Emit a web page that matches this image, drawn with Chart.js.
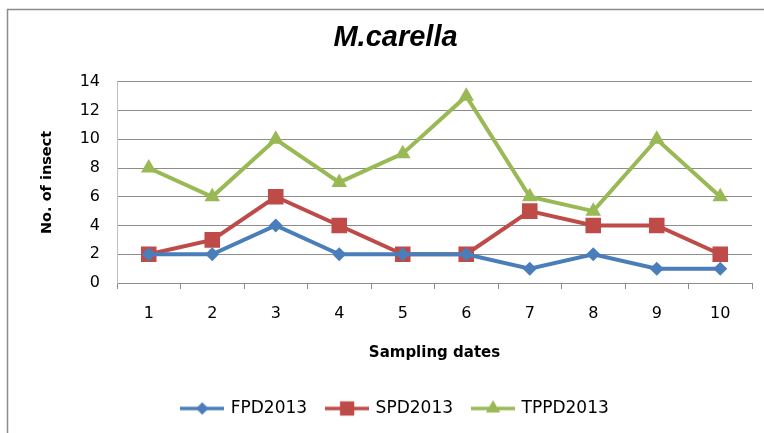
<!DOCTYPE html>
<html>
<head>
<meta charset="utf-8">
<script src="https://cdn.jsdelivr.net/npm/chart.js@4"></script>
<style>
html,body{margin:0;padding:0;background:#fff;}
#wrap{position:absolute;left:0;top:0;width:764px;height:433px;}
</style>
</head>
<body>
<div id="wrap"><canvas id="c" width="764" height="433"></canvas></div>
<script>
const categories = ['1','2','3','4','5','6','7','8','9','10'];
const fpd2013 = [2,2,4,2,2,2,1,2,1,1];
const spd2013 = [2,3,6,4,2,2,5,4,4,2];
const tppd2013 = [8,6,10,7,9,13,6,5,10,6];
const seriesNames = ['FPD2013','SPD2013','TPPD2013'];
const yTicks = [0,2,4,6,8,10,12,14];

const colors = ['#4a7ebb','#be4b48','#98b954'];
const styles = ['rectRot','rect','triangle'];
const radii = [7,11,9];

function legendIcon(i){
  const c = document.createElement('canvas');
  c.width = 44; c.height = 22;
  const ctx = c.getContext('2d');
  ctx.strokeStyle = colors[i]; ctx.lineWidth = 3.5;
  ctx.beginPath(); ctx.moveTo(0,11); ctx.lineTo(44,11); ctx.stroke();
  ctx.fillStyle = colors[i];
  Chart.helpers.drawPoint(ctx, {pointStyle: styles[i], radius: radii[i]-1, rotation:0, borderWidth:0}, 22, 11);
  ctx.fill();
  return c;
}

const borderPlugin = {
  id:'frame',
  beforeDraw(chart){
    const ctx = chart.ctx;
    ctx.save();
    ctx.fillStyle='#fff'; ctx.fillRect(0,0,chart.width,chart.height);
    ctx.strokeStyle='#8c8c8c'; ctx.lineWidth=1.5;
    ctx.strokeRect(7.5,9.5,chart.width+20,chart.height+20);
    ctx.restore();
  }
};

const mk = (i, data) => ({
  label: seriesNames[i], data,
  borderColor: colors[i], backgroundColor: colors[i],
  borderWidth: 4, pointStyle: styles[i], pointRadius: radii[i],
  pointHoverRadius: radii[i], pointBorderWidth: 0, tension: 0
});

new Chart(document.getElementById('c'), {
  type: 'line',
  data: { labels: categories, datasets: [mk(0,fpd2013), mk(1,spd2013), mk(2,tppd2013)] },
  plugins: [borderPlugin],
  options: {
    responsive: false, animation: false,
    layout: { padding: { left: 39, right: 12, top: 0, bottom: 6 } },
    plugins: {
      title: { display: true, text: 'M.carella', color:'#000',
        font: { family: 'Liberation Sans', size: 29, weight: 'bold', style: 'italic' },
        padding: { top: 21, bottom: 26 } },
      legend: { position: 'bottom',
        labels: { usePointStyle: true, pointStyleWidth: 40, boxHeight: 17, padding: 20,
          color:'#000', font: { family: 'DejaVu Sans', size: 17 },
          generateLabels(chart){
            return chart.data.datasets.map((d,i)=>({text:d.label, pointStyle: legendIcon(i), fillStyle: colors[i], strokeStyle: colors[i], lineWidth:0, datasetIndex:i, fontColor:'#000'}));
          } } },
      tooltip: { enabled: false }
    },
    scales: {
      x: {
        offset: true,
        afterFit(axis){ axis.height = 97; },
        grid: { offset: true, drawOnChartArea: false, tickLength: 6, color: '#8c8c8c' },
        border: { color: '#8c8c8c' },
        ticks: { color:'#000', font: { family: 'DejaVu Sans', size: 16 }, padding: 15 },
        title: { display: true, text: 'Sampling dates', color:'#000',
          font: { family: 'DejaVu Sans', size: 15, weight: 'bold' }, padding: { top: 0, bottom: 18 } }
      },
      y: {
        min: 0, max: 14,
        afterFit(axis){ axis.width = 78; },
        afterBuildTicks(axis){ axis.ticks = yTicks.map(v=>({value:v})); },
        grid: { color: '#8c8c8c', drawTicks: false, lineWidth: 1 },
        border: { color: '#c0c0c0', display: true },
        ticks: { color:'#000', font: { family: 'DejaVu Sans', size: 16 }, padding: 17 },
        title: { display: true, text: 'No. of insect', color:'#000',
          font: { family: 'DejaVu Sans', size: 14.5, weight: 'bold' }, padding: { top: 0, bottom: 0 } }
      }
    }
  }
});
</script>
</body>
</html>
